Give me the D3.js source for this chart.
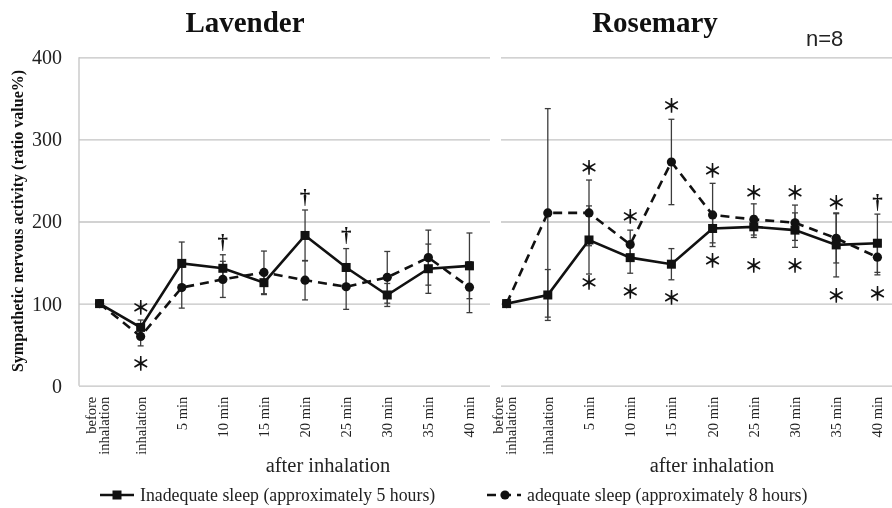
<!DOCTYPE html>
<html>
<head>
<meta charset="utf-8">
<script src="https://cdn.jsdelivr.net/npm/d3@7"></script>
<style>
  body { margin: 0; background: #fff; }
  svg { display: block; will-change: transform; }
</style>
</head>
<body>
<svg id="chart" width="892" height="508"></svg>
<script>
// Time points (a "|" splits a label onto two lines)
const categories = ["before|inhalation", "inhalation", "5 min", "10 min", "15 min",
                    "20 min", "25 min", "30 min", "35 min", "40 min"];
const yTicks = [0, 100, 200, 300, 400];

// Lavender: ratio value (%) and error bars
const lavenderInadequate    = [100, 71, 149, 143, 125.5, 183, 144, 110.5, 142.5, 146];
const lavenderInadequateErr = [0, 9, 26, 16.5, 14.5, 31, 23, 14, 30, 40];
const lavenderAdequate      = [100, 60, 119.5, 129.5, 138, 128.5, 120.5, 132, 156, 120];
const lavenderAdequateErr   = [0, 11.5, 25, 22, 26, 24, 27.5, 31.5, 33.5, 31];

// Rosemary: ratio value (%) and error bars
const rosemaryInadequate    = [100, 110.5, 177.5, 156, 148, 191.5, 193.5, 189.5, 171.5, 173.5];
const rosemaryInadequateErr = [0, 31, 41.5, 19, 19, 17.5, 13, 21, 39, 35.5];
const rosemaryAdequate      = [100, 210.5, 210.5, 172, 272.5, 208, 202.5, 198.5, 179.5, 156.5];
const rosemaryAdequateErr   = [0, 127, 40, 17.5, 52, 38.5, 19, 21.5, 30, 21.5];

// Significance marks: category, symbol, level on the ratio axis
const lavenderMarks = [
  ["inhalation", "＊", 97], ["inhalation", "＊", 28],
  ["10 min", "†", 175], ["20 min", "†", 230], ["25 min", "†", 184]
];
const rosemaryMarks = [
  ["5 min", "＊", 267.6], ["5 min", "＊", 126.7],
  ["10 min", "＊", 207], ["10 min", "＊", 115.7],
  ["15 min", "＊", 342], ["15 min", "＊", 108.4],
  ["20 min", "＊", 263.6], ["20 min", "＊", 154],
  ["25 min", "＊", 237], ["25 min", "＊", 148.2],
  ["30 min", "＊", 237], ["30 min", "＊", 148.2],
  ["35 min", "＊", 224], ["35 min", "＊", 111.3],
  ["40 min", "†", 224], ["40 min", "＊", 113.8]
];

const seriesNames = ["Inadequate sleep (approximately 5 hours)", "adequate sleep (approximately 8 hours)"];

const svg = d3.select("#chart");
const serif = "'Liberation Serif', 'Times New Roman', serif";
const gridColor = "#c3c3c3";
const barColor = "#3c3c3c";

svg.append("rect").attr("width", 892).attr("height", 508).attr("fill", "#fff");

const y = d3.scaleLinear().domain([0, 400]).range([385.7, 57.3]);

const panels = [
  { title: "Lavender", titleX: 245, afterX: 328,
    xRange: [79, 490], grid: [79, 490], yLabels: true,
    inadequate: lavenderInadequate, inadequateErr: lavenderInadequateErr,
    adequate: lavenderAdequate, adequateErr: lavenderAdequateErr, marks: lavenderMarks },
  { title: "Rosemary", titleX: 655, afterX: 712,
    xRange: [486, 898], grid: [501, 892], yLabels: false,
    inadequate: rosemaryInadequate, inadequateErr: rosemaryInadequateErr,
    adequate: rosemaryAdequate, adequateErr: rosemaryAdequateErr, marks: rosemaryMarks }
];

panels.forEach(p => {
  const x = d3.scaleBand().domain(categories).range(p.xRange).padding(0);
  const cx = c => x(c) + x.bandwidth() / 2;
  const g = svg.append("g");

  // gridlines + y axis
  const yAxis = d3.axisLeft(y).tickValues(yTicks)
    .tickSize(-(p.grid[1] - p.grid[0])).tickPadding(17);
  const ya = g.append("g").attr("transform", `translate(${p.grid[0]},0)`).call(yAxis);
  ya.selectAll(".tick line").attr("stroke", gridColor).attr("stroke-width", 1.3);
  ya.select(".domain").attr("stroke", p.yLabels ? gridColor : "none")
    .attr("stroke-width", 1.3).attr("d", `M0,${y(400)}V${y(0)}`);
  if (p.yLabels) {
    ya.selectAll(".tick text").attr("font-family", serif).attr("font-size", 20)
      .attr("fill", "#222");
  } else {
    ya.selectAll(".tick text").remove();
  }

  // x axis labels, rotated
  const xa = g.append("g").attr("transform", `translate(0,${y(0)})`)
    .call(d3.axisBottom(x).tickSize(0));
  xa.select(".domain").remove();
  xa.selectAll(".tick text").each(function (d) {
    const t = d3.select(this);
    const parts = d.split("|");
    t.text(null).attr("transform", "rotate(-90)").attr("text-anchor", "end")
      .attr("x", -11).attr("y", 0).attr("dy", null)
      .attr("font-family", serif).attr("font-size", 14.5).attr("fill", "#222");
    if (parts.length === 1) {
      t.append("tspan").attr("x", -11).attr("y", 5).text(parts[0]);
    } else {
      t.append("tspan").attr("x", -11).attr("y", -3.5).text(parts[0]);
      t.append("tspan").attr("x", -11).attr("y", 9).text(parts[1]);
    }
  });

  // titles
  g.append("text").attr("x", p.titleX).attr("y", 32).attr("text-anchor", "middle")
    .attr("font-family", serif).attr("font-weight", "bold").attr("font-size", 29)
    .attr("fill", "#111").text(p.title);
  g.append("text").attr("x", p.afterX).attr("y", 472).attr("text-anchor", "middle")
    .attr("font-family", serif).attr("font-size", 20.5).attr("fill", "#222")
    .text("after inhalation");

  // error bars
  const drawErr = (vals, errs) => {
    vals.forEach((v, i) => {
      const e = errs[i];
      if (!e) return;
      const xc = cx(categories[i]);
      const eg = g.append("g").attr("stroke", barColor).attr("stroke-width", 1.3);
      eg.append("line").attr("x1", xc).attr("x2", xc).attr("y1", y(v - e)).attr("y2", y(v + e));
      [v - e, v + e].forEach(b => eg.append("line")
        .attr("x1", xc - 3).attr("x2", xc + 3).attr("y1", y(b)).attr("y2", y(b)));
    });
  };
  drawErr(p.adequate, p.adequateErr);
  drawErr(p.inadequate, p.inadequateErr);

  const line = d3.line().x((d, i) => cx(categories[i])).y(d => y(d));

  // adequate sleep: dashed, circles
  g.append("path").datum(p.adequate).attr("d", line).attr("fill", "none")
    .attr("stroke", "#111").attr("stroke-width", 2.6).attr("stroke-dasharray", "9,6");
  g.selectAll(null).data(p.adequate).join("circle")
    .attr("cx", (d, i) => cx(categories[i])).attr("cy", d => y(d)).attr("r", 4.6)
    .attr("fill", "#111");

  // inadequate sleep: solid, squares
  g.append("path").datum(p.inadequate).attr("d", line).attr("fill", "none")
    .attr("stroke", "#111").attr("stroke-width", 2.6);
  g.selectAll(null).data(p.inadequate).join("rect")
    .attr("x", (d, i) => cx(categories[i]) - 4.5).attr("y", d => y(d) - 4.5)
    .attr("width", 9).attr("height", 9).attr("fill", "#111");

  // significance marks
  p.marks.forEach(([c, sym, lvl]) => {
    const isStar = sym === "＊";
    g.append("text").attr("x", cx(c)).attr("y", y(lvl))
      .attr("text-anchor", "middle").attr("dominant-baseline", "central")
      .attr("font-family", isStar ? "'Noto Sans CJK JP', sans-serif" : serif)
      .attr("font-weight", "bold")
      .attr("font-size", isStar ? 19 : 21).attr("fill", "#111").text(sym);
  });
});

// n label
svg.append("text").attr("x", 806).attr("y", 46)
  .attr("font-family", "'Liberation Sans', Arial, sans-serif").attr("font-size", 22)
  .attr("fill", "#222").text("n=8");

// y-axis title
svg.append("text").attr("transform", "translate(23,221) rotate(-90)")
  .attr("text-anchor", "middle").attr("font-family", serif).attr("font-weight", "bold")
  .attr("font-size", 16).attr("fill", "#111")
  .text("Sympathetic nervous activity (ratio value%)");

// legend
const legend = svg.append("g");
const legendItems = [
  { name: seriesNames[0], x0: 100, dash: null, marker: "square", textX: 140 },
  { name: seriesNames[1], x0: 487, dash: "9,6", marker: "circle", textX: 527 }
];
legendItems.forEach(it => {
  const ly = 495;
  legend.append("line").attr("x1", it.x0).attr("x2", it.x0 + 34).attr("y1", ly).attr("y2", ly)
    .attr("stroke", "#111").attr("stroke-width", 2.6)
    .attr("stroke-dasharray", it.dash);
  if (it.marker === "square") {
    legend.append("rect").attr("x", it.x0 + 17 - 4.5).attr("y", ly - 4.5)
      .attr("width", 9).attr("height", 9).attr("fill", "#111");
  } else {
    legend.append("circle").attr("cx", it.x0 + 18).attr("cy", ly).attr("r", 4.6).attr("fill", "#111");
  }
  legend.append("text").attr("x", it.textX).attr("y", ly + 6)
    .attr("font-family", serif).attr("font-size", 17.8).attr("fill", "#222").text(it.name);
});
</script>
</body>
</html>
